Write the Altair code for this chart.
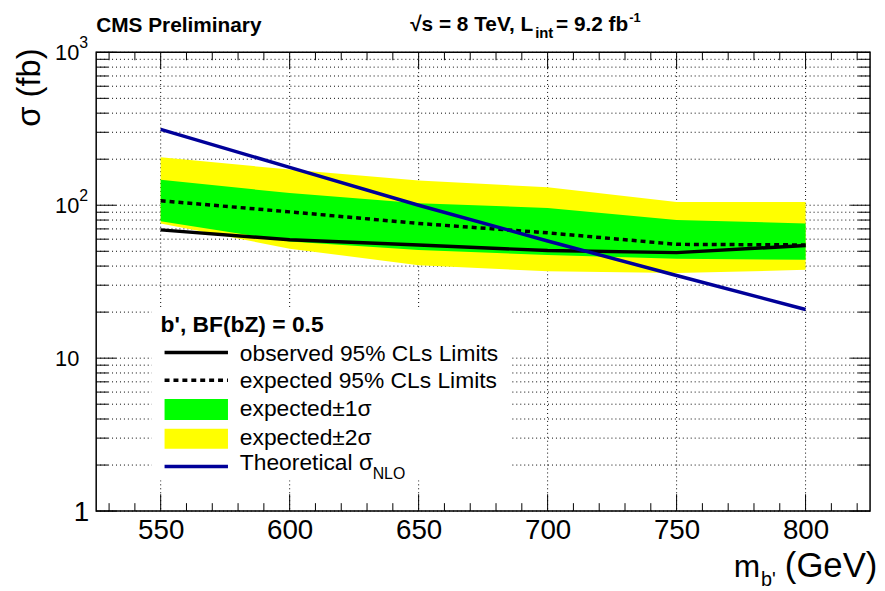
import altair as alt
import pandas as pd

# ---------------- data ----------------
mass = [550, 600, 650, 700, 750, 800]
observed = [69, 59.5, 55, 50.5, 49, 54.5]
expected = [107, 90.5, 76, 66, 55.5, 55]
one_sigma_lo = [78.5, 58, 51, 47.3, 44.6, 44]
one_sigma_hi = [147, 120, 103, 96, 80, 76]
two_sigma_lo = [76, 52, 40.5, 37, 36, 37.8]
two_sigma_hi = [206, 171, 145, 131, 105, 105]
theory = [313, 177, 100, 58.4, 34.7, 20.8]

x_major = [550, 600, 650, 700, 750, 800]
x_minor = [530, 540, 560, 570, 580, 590, 610, 620, 630, 640, 660, 670, 680, 690,
           710, 720, 730, 740, 760, 770, 780, 790, 810, 820]
y_major = [1, 10, 100, 1000]
y_minor = [2, 3, 4, 5, 6, 7, 8, 9, 20, 30, 40, 50, 60, 70, 80, 90,
           200, 300, 400, 500, 600, 700, 800, 900]
y_label_mantissa = ["1", "10", "10", "10"]
y_label_exponent = ["", "", "2", "3"]

# ---------------- layout ----------------
W, H = 781, 463
FONT = "Liberation Sans"
XS = alt.Scale(domain=[525, 825], nice=False, zero=False)
YS = alt.Scale(type="log", domain=[1, 1000], nice=False)

df = pd.DataFrame(dict(mass=mass, obs=observed, exp=expected,
                       s1lo=one_sigma_lo, s1hi=one_sigma_hi,
                       s2lo=two_sigma_lo, s2hi=two_sigma_hi, th=theory))
ylab = pd.DataFrame(dict(v=y_major, man=y_label_mantissa, ex=y_label_exponent))

one = pd.DataFrame({"a": [0]})

AX = alt.Axis(values=x_major, title=None, grid=False, ticks=False, tickSize=0,
              domain=False, labelFontSize=28, labelFont=FONT, labelColor="black",
              labelPadding=6, labelOverlap=False)


def Y(field):
    return alt.Y(field, scale=YS, axis=None)


grid_v = alt.Chart(pd.DataFrame({"v": x_major})).mark_rule(
    color="black", strokeWidth=1, strokeDash=[1, 3]
).encode(x=alt.X("v:Q", scale=XS, axis=AX), y=alt.value(0), y2=alt.value(H))

grid_h = alt.Chart(pd.DataFrame({"v": y_major + y_minor})).mark_rule(
    color="black", strokeWidth=1, strokeDash=[1, 3]
).encode(y=Y("v:Q"), x=alt.value(0), x2=alt.value(W))

legend_box = alt.Chart(one).mark_rect(color="white").encode(
    x=alt.value(56), x2=alt.value(418), y=alt.value(258), y2=alt.value(432))

xenc = alt.X("mass:Q", scale=XS, axis=AX)
band2 = alt.Chart(df).mark_area(color="#ffff00").encode(
    x=xenc, y=Y("s2hi:Q"), y2="s2lo:Q")
band1 = alt.Chart(df).mark_area(color="#00ff00").encode(
    x=xenc, y=Y("s1hi:Q"), y2="s1lo:Q")
exp_line = alt.Chart(df).mark_line(color="black", strokeWidth=3.5, strokeDash=[5, 4]).encode(
    x=xenc, y=Y("exp:Q"))
obs_line = alt.Chart(df).mark_line(color="black", strokeWidth=3.5).encode(
    x=xenc, y=Y("obs:Q"))
th_line = alt.Chart(df).mark_line(color="#000099", strokeWidth=3.5).encode(
    x=xenc, y=Y("th:Q"))


def xticks(vals, y0, y1):
    return alt.Chart(pd.DataFrame({"v": vals})).mark_rule(color="black", strokeWidth=1).encode(
        x=alt.X("v:Q", scale=XS, axis=AX), y=alt.value(y0), y2=alt.value(y1))


def yticks(vals, x0, x1):
    return alt.Chart(pd.DataFrame({"v": vals})).mark_rule(color="black", strokeWidth=1).encode(
        y=Y("v:Q"), x=alt.value(x0), x2=alt.value(x1))


ticks = [
    xticks(x_major, H, H - 17), xticks(x_minor, H, H - 8),
    xticks(x_major, 0, 17), xticks(x_minor, 0, 8),
    yticks(y_major, 0, 20), yticks(y_minor, 0, 12),
    yticks(y_major, W, W - 20), yticks(y_minor, W, W - 12),
]

# y-axis labels (10^n style)
ylab_man = alt.Chart(ylab).transform_filter("datum.v >= 10").mark_text(
    align="right", baseline="alphabetic", fontSize=22, font=FONT, color="black", dy=8
).encode(y=Y("v:Q"), x=alt.value(-17), text="man:N")
ylab_one = alt.Chart(ylab).transform_filter("datum.v == 1").mark_text(
    align="right", baseline="alphabetic", fontSize=28, font=FONT, color="black", dy=10
).encode(y=Y("v:Q"), x=alt.value(-7), text="man:N")
ylab_exp = alt.Chart(ylab).transform_filter("datum.v >= 100").mark_text(
    align="left", baseline="alphabetic", fontSize=16, font=FONT, color="black", dy=-4
).encode(y=Y("v:Q"), x=alt.value(-17), text="ex:N")

frame = alt.Chart(one).mark_rect(filled=False, stroke="black", strokeWidth=1.5).encode(
    x=alt.value(0), x2=alt.value(W), y=alt.value(0), y2=alt.value(H))


def text(t, x, y, size, bold=False, align="left", baseline="alphabetic", angle=0):
    return alt.Chart(pd.DataFrame({"t": [t]})).mark_text(
        align=align, baseline=baseline, fontSize=size, font=FONT,
        fontWeight="bold" if bold else "normal", angle=angle, color="black"
    ).encode(x=alt.value(x), y=alt.value(y), text="t:N")


def seg(x0, x1, y, color, dash=None):
    kw = dict(color=color, strokeWidth=3.5)
    if dash:
        kw["strokeDash"] = dash
    return alt.Chart(one).mark_rule(**kw).encode(
        x=alt.value(x0), x2=alt.value(x1), y=alt.value(y))


def box(x0, x1, y0, y1, color):
    return alt.Chart(one).mark_rect(color=color).encode(
        x=alt.value(x0), x2=alt.value(x1), y=alt.value(y0), y2=alt.value(y1))


legend = [
    text("b', BF(bZ) = 0.5", 65, 282, 23, bold=True),
    seg(69, 133, 303, "black"),
    text("observed 95% CLs Limits", 145, 312, 23),
    seg(69, 133, 331, "black", [5, 4]),
    text("expected 95% CLs Limits", 145, 339, 23),
    box(69, 133, 350, 371, "#00ff00"),
    text("expected±1σ", 145, 367, 23),
    box(69, 133, 380, 400, "#ffff00"),
    text("expected±2σ", 145, 396, 23),
    seg(69, 133, 418, "#000099"),
    text("Theoretical σ", 145, 422, 23),
    text("NLO", 279, 431, 16),
]

titles = [
    text("CMS Preliminary", 0, -20, 21, bold=True),
    text("√s = 8 TeV, L", 441, -22, 21, bold=True, align="right"),
    text("int", 443, -14, 15, bold=True),
    text("= 9.2 fb", 464, -22, 21, bold=True),
    text("-1", 538, -31, 13, bold=True),
    text("(GeV)", 695, 530, 35),
    text("m", 670, 530, 32, align="right"),
    text("b'", 671, 539, 20),
    text("σ (fb)", -67, -4, 33, align="right", baseline="middle", angle=270),
]

chart = alt.layer(
    grid_v, grid_h, legend_box, band2, band1, exp_line, obs_line, th_line,
    *ticks, ylab_man, ylab_one, ylab_exp, frame, *legend, *titles
).properties(
    width=W, height=H,
    padding={"left": 89, "top": 42, "right": 7, "bottom": 85},
    autosize="none",
).configure_view(stroke=None)

chart.save("out.html", embed_options={"renderer": "svg", "actions": False})
